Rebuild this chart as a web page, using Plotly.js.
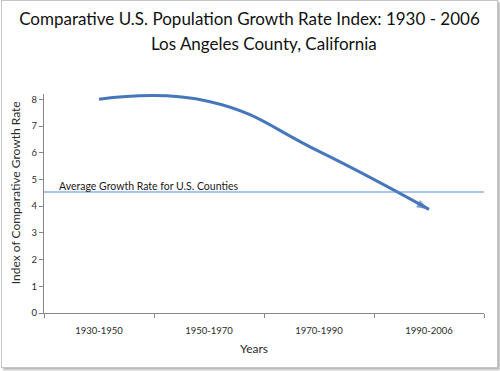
<!DOCTYPE html>
<html>
<head>
<meta charset="utf-8">
<script src="https://cdn.plot.ly/plotly-3.0.1.min.js"></script>
<style>
  html, body { margin: 0; padding: 0; background: #ffffff; }
  #frame { position: absolute; left: 1px; top: 0px; width: 495px; height: 366px;
           border: 1px solid #c4c4c4; box-shadow: 2px 2px 2px #b8b8b8; background: #fff; }
  #chart { width: 495px; height: 366px; }
</style>
</head>
<body>
<div id="frame"><div id="chart"></div></div>
<script>
// ---- data ----
const periods = ["1930-1950", "1950-1970", "1970-1990", "1990-2006"];
const growthIndex = [8.0, 7.92, 6.05, 3.88];
const averageCountyRate = 4.53;
const averageLabel = "Average Growth Rate for U.S. Counties";
const yTicks = [0, 1, 2, 3, 4, 5, 6, 7, 8];
const titleLine1 = "Comparative U.S. Population Growth Rate Index: 1930 - 2006";
const titleLine2 = "Los Angeles County, California";
const xTitle = "Years";
const yTitle = "Index of Comparative Growth Rate";

const FONT = "Lato, 'Open Sans', sans-serif";
const BLUE = "#4777bb";
const TXT = "#2b2b2b";

const markerSizes = growthIndex.map((v, i) => i === growthIndex.length - 1 ? 13 : 0);

const traces = [{
  type: "scatter",
  mode: "lines+markers",
  x: periods,
  y: growthIndex,
  line: { color: BLUE, width: 3, shape: "spline", smoothing: 1.3 },
  marker: { symbol: "arrow", angleref: "previous", size: markerSizes, color: BLUE, line: { width: 0 } },
  cliponaxis: false,
  hoverinfo: "skip",
  showlegend: false
}];

const layout = {
  width: 495,
  height: 366,
  paper_bgcolor: "#ffffff",
  plot_bgcolor: "#ffffff",
  margin: { l: 42, r: 13, t: 93, b: 54 },
  font: { family: FONT, color: TXT },
  title: {
    text: titleLine1,
    font: { family: FONT, size: 17, color: "#111111" },
    x: 0.5, xanchor: "center",
    y: 0.951, yanchor: "middle", yref: "container"
  },
  xaxis: {
    type: "category",
    range: [-0.5, 3.5],
    tickson: "boundaries",
    ticks: "outside",
    ticklen: 4,
    tickcolor: "#888888",
    ticklabelstandoff: 9,
    showline: true,
    linecolor: "#888888",
    linewidth: 1,
    showgrid: false,
    zeroline: false,
    tickfont: { family: FONT, size: 9.5, color: TXT },
    fixedrange: true
  },
  yaxis: {
    range: [0, 8.2],
    tickvals: yTicks,
    ticks: "outside",
    ticklen: 4,
    tickcolor: "#888888",
    showline: true,
    linecolor: "#888888",
    linewidth: 1,
    showgrid: false,
    zeroline: false,
    tickfont: { family: FONT, size: 9.5, color: TXT },
    fixedrange: true
  },
  shapes: [{
    type: "line", xref: "paper", x0: 0, x1: 1,
    yref: "y", y0: averageCountyRate, y1: averageCountyRate,
    line: { color: "#4f8be0", width: 1.2 }
  }],
  annotations: [
    {
      text: averageLabel,
      xref: "paper", x: 0.029, xanchor: "left",
      yref: "y", y: averageCountyRate, yanchor: "bottom", yshift: -2,
      showarrow: false,
      font: { family: FONT, size: 10.5, color: "#1a1a1a" }
    },
    {
      text: titleLine2,
      xref: "paper", x: 0.5, xanchor: "center",
      yref: "paper", y: 1.23, yanchor: "middle",
      showarrow: false,
      font: { family: FONT, size: 17, color: "#111111" }
    },
    {
      text: xTitle,
      xref: "paper", x: 0.477, xanchor: "center",
      yref: "paper", y: -0.164, yanchor: "middle",
      showarrow: false,
      font: { family: FONT, size: 12, color: TXT }
    },
    {
      text: yTitle,
      textangle: -90,
      xref: "paper", x: 0, xanchor: "center", xshift: -29,
      yref: "paper", y: 0.547, yanchor: "middle",
      showarrow: false,
      font: { family: FONT, size: 12, color: TXT }
    }
  ]
};

Plotly.newPlot("chart", traces, layout, { staticPlot: true, displayModeBar: false });
</script>
</body>
</html>
